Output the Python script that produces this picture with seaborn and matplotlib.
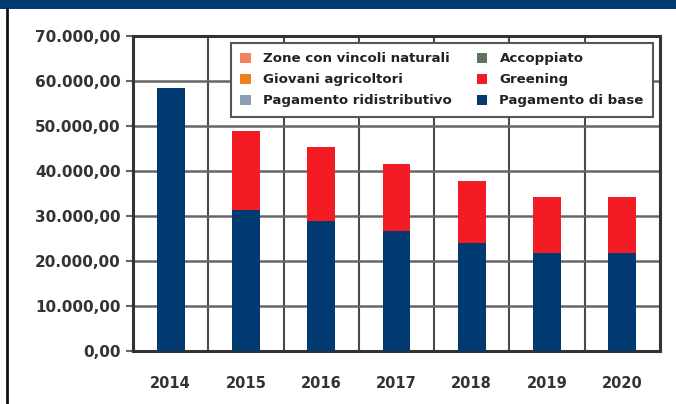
import matplotlib
matplotlib.use("Agg")
import matplotlib.pyplot as plt
import seaborn as sns
import pandas as pd
import numpy as np
from matplotlib.patches import Patch, Rectangle
from matplotlib.ticker import FuncFormatter, MultipleLocator
from matplotlib.lines import Line2D

years = ["2014", "2015", "2016", "2017", "2018", "2019", "2020"]
pagamento_di_base = [58400, 31200, 28800, 26500, 24000, 21700, 21600]
greening = [0, 17500, 16400, 15000, 13700, 12400, 12500]
accoppiato = [0, 0, 0, 0, 0, 0, 0]
pagamento_ridistributivo = [0, 0, 0, 0, 0, 0, 0]
giovani_agricoltori = [0, 0, 0, 0, 0, 0, 0]
zone_vincoli = [0, 0, 0, 0, 0, 0, 0]

series_names = ["Pagamento di base", "Greening", "Accoppiato",
                "Pagamento ridistributivo", "Giovani agricoltori",
                "Zone con vincoli naturali"]
series_values = [pagamento_di_base, greening, accoppiato,
                 pagamento_ridistributivo, giovani_agricoltori, zone_vincoli]
colors = {
    "Pagamento di base": "#003a70",
    "Greening": "#f41c24",
    "Accoppiato": "#5e7563",
    "Pagamento ridistributivo": "#8d9db6",
    "Giovani agricoltori": "#f0801e",
    "Zone con vincoli naturali": "#f0825f",
}

sns.set_style("white")
plt.rcParams["font.family"] = ["DejaVu Sans"]

fig = plt.figure(figsize=(6.76, 4.04), dpi=100)
ax = fig.add_axes([133 / 676, 1 - 350.7 / 404, 527 / 676, 315.2 / 404])

# stacked bars: draw cumulative totals from top layer down
cum = np.cumsum(np.array(series_values, dtype=float), axis=0)
for i in range(len(series_names) - 1, -1, -1):
    df = pd.DataFrame({"year": years, "value": cum[i]})
    sns.barplot(data=df, x="year", y="value", color=colors[series_names[i]],
                saturation=1, width=0.37, ax=ax, zorder=3, linewidth=0)

ax.set_xlim(-0.5, 6.5)
ax.set_ylim(0, 70000)
ax.yaxis.set_major_locator(MultipleLocator(10000))
ax.yaxis.set_major_formatter(FuncFormatter(
    lambda v, p: f"{v:,.2f}".replace(",", "X").replace(".", ",").replace("X", ".")))
ax.set_xticks(np.arange(0.5, 6.5, 1), minor=True)
ax.grid(axis="y", which="major", color="#666666", linewidth=1.8, zorder=0)
ax.grid(axis="x", which="minor", color="#4a4a4a", linewidth=1.5, zorder=0)
ax.grid(axis="x", which="major", visible=False)
ax.set_axisbelow(True)
ax.set_xlabel("")
ax.set_ylabel("")
for s in ax.spines.values():
    s.set_visible(True)
    s.set_color("#333333")
    s.set_linewidth(2.2)
ax.tick_params(axis="y", which="major", length=5, width=1.5, color="#666666",
               labelsize=11, labelcolor="#333333", pad=4, left=True)
ax.tick_params(axis="x", which="both", length=0, labelsize=10.5,
               labelcolor="#333333", pad=18)
for lab in ax.get_yticklabels() + ax.get_xticklabels():
    lab.set_fontweight("bold")

legend_order = ["Zone con vincoli naturali", "Giovani agricoltori",
                "Pagamento ridistributivo", "Accoppiato", "Greening",
                "Pagamento di base"]
handles = [Patch(facecolor=colors[n], edgecolor="none", label=n) for n in legend_order]
leg = ax.legend(handles=handles, ncol=2, loc="upper right",
                bbox_to_anchor=(0.987, 0.976), borderaxespad=0,
                frameon=True, fancybox=False, framealpha=1,
                edgecolor="#555555", handlelength=0.8, handleheight=0.8,
                handletextpad=0.9, columnspacing=1.9, labelspacing=0.6,
                borderpad=0.7,
                prop={"weight": "bold", "size": 9.6})
leg.get_frame().set_linewidth(1.5)
for t in leg.get_texts():
    t.set_color("#222222")
leg.set_zorder(5)

# header banner and left border
fig.add_artist(Rectangle((0, 1 - 9 / 404), 1, 9 / 404, transform=fig.transFigure,
                         facecolor="#003a70", edgecolor="none"))
fig.add_artist(Line2D([7 / 676, 7 / 676], [0, 1 - 9 / 404], transform=fig.transFigure,
                      color="#111111", linewidth=2))

fig.savefig("out.png", dpi=100)
